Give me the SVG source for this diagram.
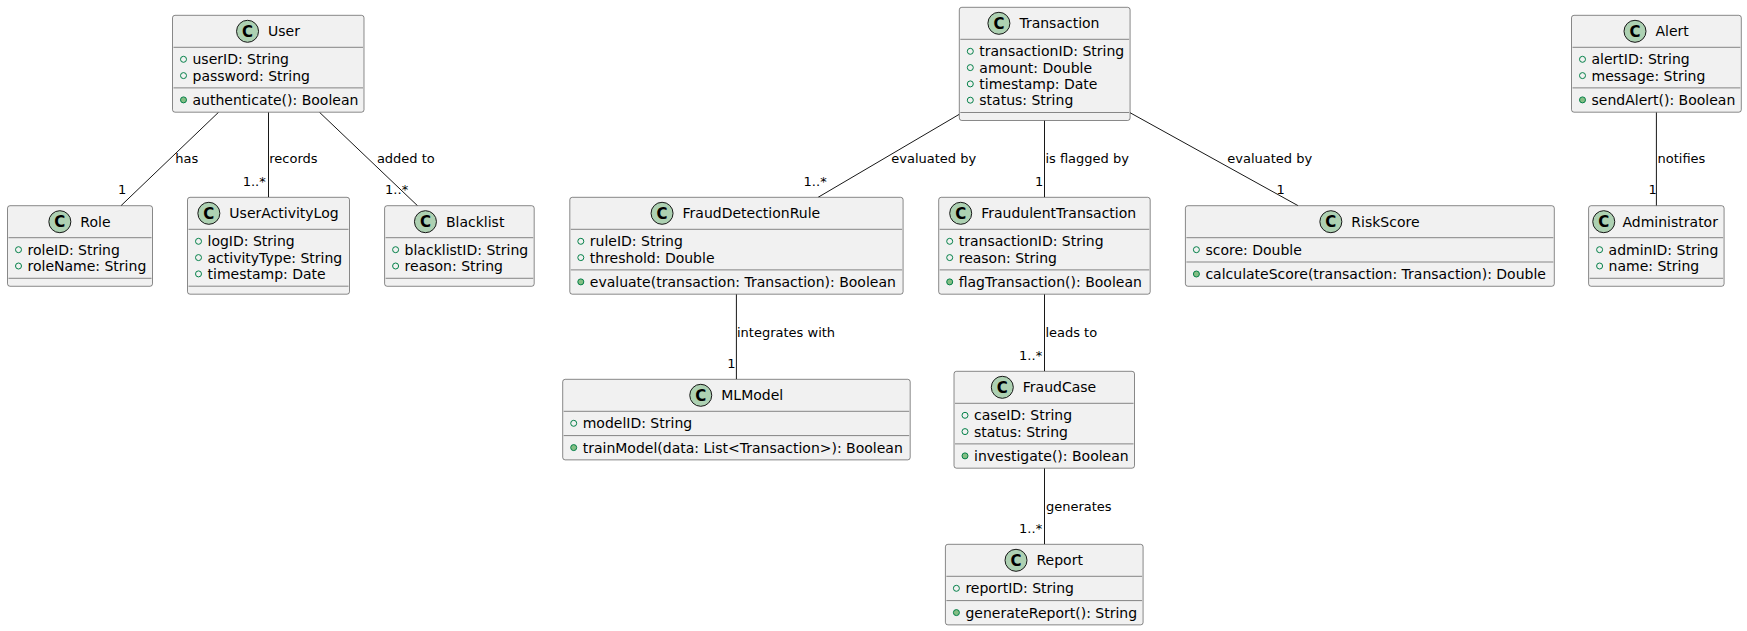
<svg xmlns="http://www.w3.org/2000/svg" width="1747" height="631" viewBox="0 0 1747 631">
  <style>
    text { font-family: "DejaVu Sans", "Liberation Sans", sans-serif; fill: #000000; }
    .box { fill: #F1F1F1; stroke: #181818; stroke-width: 0.5; }
    .sep { stroke: #181818; stroke-width: 0.5; }
    .badge { fill: #ADD1B2; stroke: #181818; stroke-width: 1; }
    .badge-c { font-size: 15px; font-weight: bold; text-anchor: middle; }
    .name { font-size: 14px; }
    .member { font-size: 14px; }
    .fld { fill: none; stroke: #038048; stroke-width: 1; }
    .mth { fill: #84BE84; stroke: #038048; stroke-width: 1; }
    .edge { stroke: #181818; stroke-width: 1; fill: none; }
    .lbl { font-size: 13px; }
  </style>
  <rect width="1747" height="631" fill="#FFFFFF"/>

  <!-- connectors -->
  <g id="connectors">
    <line class="edge" x1="218.5" y1="112.3" x2="121" y2="205.7"/>
    <text class="lbl" x="175.2" y="162.7">has</text>
    <text class="lbl" x="118" y="194">1</text>

    <line class="edge" x1="268.5" y1="112.3" x2="268.5" y2="197.3"/>
    <text class="lbl" x="269.3" y="162.7">records</text>
    <text class="lbl" x="242.7" y="185.7">1..*</text>

    <line class="edge" x1="319.5" y1="112.3" x2="417.5" y2="205.7"/>
    <text class="lbl" x="376.9" y="162.7">added to</text>
    <text class="lbl" x="385.1" y="194">1..*</text>

    <line class="edge" x1="959.3" y1="114.3" x2="818.1" y2="197.3"/>
    <text class="lbl" x="891.3" y="162.7">evaluated by</text>
    <text class="lbl" x="803.6" y="185.7">1..*</text>

    <line class="edge" x1="1044.5" y1="120.5" x2="1044.5" y2="197.3"/>
    <text class="lbl" x="1045.4" y="162.7">is flagged by</text>
    <text class="lbl" x="1035" y="185.7">1</text>

    <line class="edge" x1="1130" y1="112.7" x2="1298.1" y2="205.7"/>
    <text class="lbl" x="1227.3" y="162.7">evaluated by</text>
    <text class="lbl" x="1276.6" y="194">1</text>

    <line class="edge" x1="1656.4" y1="112.3" x2="1656.4" y2="205.7"/>
    <text class="lbl" x="1657.5" y="162.7">notifies</text>
    <text class="lbl" x="1648.6" y="194">1</text>

    <line class="edge" x1="736.4" y1="294.2" x2="736.4" y2="379.3"/>
    <text class="lbl" x="737" y="336.7">integrates with</text>
    <text class="lbl" x="727.3" y="367.7">1</text>

    <line class="edge" x1="1044.5" y1="294.2" x2="1044.5" y2="371.3"/>
    <text class="lbl" x="1045.4" y="336.7">leads to</text>
    <text class="lbl" x="1019.1" y="360">1..*</text>

    <line class="edge" x1="1044.5" y1="468.2" x2="1044.5" y2="544.3"/>
    <text class="lbl" x="1045.9" y="511">generates</text>
    <text class="lbl" x="1019.1" y="533.3">1..*</text>
  </g>

  <!-- User -->
  <g id="User">
    <rect class="box" x="172.5" y="15.3" width="191.5" height="96.89" rx="2.5" ry="2.5"/>
    <circle class="badge" cx="247.55" cy="31.3" r="11"/>
    <text class="badge-c" x="247.55" y="36.6">C</text>
    <text class="name" x="268.05" y="36.15">User</text>
    <line class="sep" x1="173.5" y1="47.3" x2="363" y2="47.3"/>
    <circle class="fld" cx="183.5" cy="59.3" r="3"/>
    <text class="member" x="192.5" y="64.3">userID: String</text>
    <circle class="fld" cx="183.5" cy="75.6" r="3"/>
    <text class="member" x="192.5" y="80.6">password: String</text>
    <line class="sep" x1="173.5" y1="87.89" x2="363" y2="87.89"/>
    <circle class="mth" cx="183.5" cy="99.89" r="3"/>
    <text class="member" x="192.5" y="104.89">authenticate(): Boolean</text>
  </g>

  <!-- Role -->
  <g id="Role">
    <rect class="box" x="7.5" y="205.7" width="145" height="80.59" rx="2.5" ry="2.5"/>
    <circle class="badge" cx="59.85" cy="221.7" r="11"/>
    <text class="badge-c" x="59.85" y="227">C</text>
    <text class="name" x="80.35" y="226.55">Role</text>
    <line class="sep" x1="8.5" y1="237.7" x2="151.5" y2="237.7"/>
    <circle class="fld" cx="18.5" cy="249.7" r="3"/>
    <text class="member" x="27.5" y="254.7">roleID: String</text>
    <circle class="fld" cx="18.5" cy="266" r="3"/>
    <text class="member" x="27.5" y="271">roleName: String</text>
    <line class="sep" x1="8.5" y1="278.29" x2="151.5" y2="278.29"/>
  </g>

  <!-- UserActivityLog -->
  <g id="UserActivityLog">
    <rect class="box" x="187.5" y="197.3" width="162" height="96.89" rx="2.5" ry="2.5"/>
    <circle class="badge" cx="208.85" cy="213.3" r="11"/>
    <text class="badge-c" x="208.85" y="218.6">C</text>
    <text class="name" x="229.35" y="218.15">UserActivityLog</text>
    <line class="sep" x1="188.5" y1="229.3" x2="348.5" y2="229.3"/>
    <circle class="fld" cx="198.5" cy="241.3" r="3"/>
    <text class="member" x="207.5" y="246.3">logID: String</text>
    <circle class="fld" cx="198.5" cy="257.6" r="3"/>
    <text class="member" x="207.5" y="262.6">activityType: String</text>
    <circle class="fld" cx="198.5" cy="273.9" r="3"/>
    <text class="member" x="207.5" y="278.9">timestamp: Date</text>
    <line class="sep" x1="188.5" y1="286.19" x2="348.5" y2="286.19"/>
  </g>

  <!-- Blacklist -->
  <g id="Blacklist">
    <rect class="box" x="384.6" y="205.7" width="149.6" height="80.59" rx="2.5" ry="2.5"/>
    <circle class="badge" cx="425.45" cy="221.7" r="11"/>
    <text class="badge-c" x="425.45" y="227">C</text>
    <text class="name" x="445.95" y="226.55">Blacklist</text>
    <line class="sep" x1="385.6" y1="237.7" x2="533.2" y2="237.7"/>
    <circle class="fld" cx="395.6" cy="249.7" r="3"/>
    <text class="member" x="404.6" y="254.7">blacklistID: String</text>
    <circle class="fld" cx="395.6" cy="266" r="3"/>
    <text class="member" x="404.6" y="271">reason: String</text>
    <line class="sep" x1="385.6" y1="278.29" x2="533.2" y2="278.29"/>
  </g>

  <!-- Transaction -->
  <g id="Transaction">
    <rect class="box" x="959.3" y="7.3" width="170.8" height="113.19" rx="2.5" ry="2.5"/>
    <circle class="badge" cx="998.9" cy="23.3" r="11"/>
    <text class="badge-c" x="998.9" y="28.6">C</text>
    <text class="name" x="1019.4" y="28.15">Transaction</text>
    <line class="sep" x1="960.3" y1="39.3" x2="1129.1" y2="39.3"/>
    <circle class="fld" cx="970.3" cy="51.3" r="3"/>
    <text class="member" x="979.3" y="56.3">transactionID: String</text>
    <circle class="fld" cx="970.3" cy="67.6" r="3"/>
    <text class="member" x="979.3" y="72.6">amount: Double</text>
    <circle class="fld" cx="970.3" cy="83.9" r="3"/>
    <text class="member" x="979.3" y="88.9">timestamp: Date</text>
    <circle class="fld" cx="970.3" cy="100.2" r="3"/>
    <text class="member" x="979.3" y="105.2">status: String</text>
    <line class="sep" x1="960.3" y1="112.49" x2="1129.1" y2="112.49"/>
  </g>

  <!-- FraudDetectionRule -->
  <g id="FraudDetectionRule">
    <rect class="box" x="569.8" y="197.3" width="333.3" height="96.89" rx="2.5" ry="2.5"/>
    <circle class="badge" cx="662.05" cy="213.3" r="11"/>
    <text class="badge-c" x="662.05" y="218.6">C</text>
    <text class="name" x="682.55" y="218.15">FraudDetectionRule</text>
    <line class="sep" x1="570.8" y1="229.3" x2="902.1" y2="229.3"/>
    <circle class="fld" cx="580.8" cy="241.3" r="3"/>
    <text class="member" x="589.8" y="246.3">ruleID: String</text>
    <circle class="fld" cx="580.8" cy="257.6" r="3"/>
    <text class="member" x="589.8" y="262.6">threshold: Double</text>
    <line class="sep" x1="570.8" y1="269.89" x2="902.1" y2="269.89"/>
    <circle class="mth" cx="580.8" cy="281.89" r="3"/>
    <text class="member" x="589.8" y="286.89">evaluate(transaction: Transaction): Boolean</text>
  </g>

  <!-- FraudulentTransaction -->
  <g id="FraudulentTransaction">
    <rect class="box" x="938.7" y="197.3" width="211.5" height="96.89" rx="2.5" ry="2.5"/>
    <circle class="badge" cx="960.7" cy="213.3" r="11"/>
    <text class="badge-c" x="960.7" y="218.6">C</text>
    <text class="name" x="981.2" y="218.15">FraudulentTransaction</text>
    <line class="sep" x1="939.7" y1="229.3" x2="1149.2" y2="229.3"/>
    <circle class="fld" cx="949.7" cy="241.3" r="3"/>
    <text class="member" x="958.7" y="246.3">transactionID: String</text>
    <circle class="fld" cx="949.7" cy="257.6" r="3"/>
    <text class="member" x="958.7" y="262.6">reason: String</text>
    <line class="sep" x1="939.7" y1="269.89" x2="1149.2" y2="269.89"/>
    <circle class="mth" cx="949.7" cy="281.89" r="3"/>
    <text class="member" x="958.7" y="286.89">flagTransaction(): Boolean</text>
  </g>

  <!-- RiskScore -->
  <g id="RiskScore">
    <rect class="box" x="1185.4" y="205.7" width="368.9" height="80.59" rx="2.5" ry="2.5"/>
    <circle class="badge" cx="1330.85" cy="221.7" r="11"/>
    <text class="badge-c" x="1330.85" y="227">C</text>
    <text class="name" x="1351.35" y="226.55">RiskScore</text>
    <line class="sep" x1="1186.4" y1="237.7" x2="1553.3" y2="237.7"/>
    <circle class="fld" cx="1196.4" cy="249.7" r="3"/>
    <text class="member" x="1205.4" y="254.7">score: Double</text>
    <line class="sep" x1="1186.4" y1="262" x2="1553.3" y2="262"/>
    <circle class="mth" cx="1196.4" cy="274" r="3"/>
    <text class="member" x="1205.4" y="279">calculateScore(transaction: Transaction): Double</text>
  </g>

  <!-- Alert -->
  <g id="Alert">
    <rect class="box" x="1571.5" y="15.3" width="169.8" height="96.89" rx="2.5" ry="2.5"/>
    <circle class="badge" cx="1635" cy="31.3" r="11"/>
    <text class="badge-c" x="1635" y="36.6">C</text>
    <text class="name" x="1655.5" y="36.15">Alert</text>
    <line class="sep" x1="1572.5" y1="47.3" x2="1740.3" y2="47.3"/>
    <circle class="fld" cx="1582.5" cy="59.3" r="3"/>
    <text class="member" x="1591.5" y="64.3">alertID: String</text>
    <circle class="fld" cx="1582.5" cy="75.6" r="3"/>
    <text class="member" x="1591.5" y="80.6">message: String</text>
    <line class="sep" x1="1572.5" y1="87.89" x2="1740.3" y2="87.89"/>
    <circle class="mth" cx="1582.5" cy="99.89" r="3"/>
    <text class="member" x="1591.5" y="104.89">sendAlert(): Boolean</text>
  </g>

  <!-- Administrator -->
  <g id="Administrator">
    <rect class="box" x="1588.6" y="205.7" width="135.5" height="80.59" rx="2.5" ry="2.5"/>
    <circle class="badge" cx="1603.75" cy="221.7" r="11"/>
    <text class="badge-c" x="1603.75" y="227">C</text>
    <text class="name" x="1622.5" y="226.55">Administrator</text>
    <line class="sep" x1="1589.6" y1="237.7" x2="1723.1" y2="237.7"/>
    <circle class="fld" cx="1599.6" cy="249.7" r="3"/>
    <text class="member" x="1608.6" y="254.7">adminID: String</text>
    <circle class="fld" cx="1599.6" cy="266" r="3"/>
    <text class="member" x="1608.6" y="271">name: String</text>
    <line class="sep" x1="1589.6" y1="278.29" x2="1723.1" y2="278.29"/>
  </g>

  <!-- MLModel -->
  <g id="MLModel">
    <rect class="box" x="562.7" y="379.3" width="347.5" height="80.59" rx="2.5" ry="2.5"/>
    <circle class="badge" cx="700.75" cy="395.3" r="11"/>
    <text class="badge-c" x="700.75" y="400.6">C</text>
    <text class="name" x="721.25" y="400.15">MLModel</text>
    <line class="sep" x1="563.7" y1="411.3" x2="909.2" y2="411.3"/>
    <circle class="fld" cx="573.7" cy="423.3" r="3"/>
    <text class="member" x="582.7" y="428.3">modelID: String</text>
    <line class="sep" x1="563.7" y1="435.6" x2="909.2" y2="435.6"/>
    <circle class="mth" cx="573.7" cy="447.6" r="3"/>
    <text class="member" x="582.7" y="452.6">trainModel(data: List&lt;Transaction&gt;): Boolean</text>
  </g>

  <!-- FraudCase -->
  <g id="FraudCase">
    <rect class="box" x="954" y="371.3" width="180.5" height="96.89" rx="2.5" ry="2.5"/>
    <circle class="badge" cx="1002.3" cy="387.3" r="11"/>
    <text class="badge-c" x="1002.3" y="392.6">C</text>
    <text class="name" x="1022.8" y="392.15">FraudCase</text>
    <line class="sep" x1="955" y1="403.3" x2="1133.5" y2="403.3"/>
    <circle class="fld" cx="965" cy="415.3" r="3"/>
    <text class="member" x="974" y="420.3">caseID: String</text>
    <circle class="fld" cx="965" cy="431.6" r="3"/>
    <text class="member" x="974" y="436.6">status: String</text>
    <line class="sep" x1="955" y1="443.89" x2="1133.5" y2="443.89"/>
    <circle class="mth" cx="965" cy="455.89" r="3"/>
    <text class="member" x="974" y="460.89">investigate(): Boolean</text>
  </g>

  <!-- Report -->
  <g id="Report">
    <rect class="box" x="945.4" y="544.3" width="197.7" height="80.59" rx="2.5" ry="2.5"/>
    <circle class="badge" cx="1016" cy="560.3" r="11"/>
    <text class="badge-c" x="1016" y="565.6">C</text>
    <text class="name" x="1036.5" y="565.15">Report</text>
    <line class="sep" x1="946.4" y1="576.3" x2="1142.1" y2="576.3"/>
    <circle class="fld" cx="956.4" cy="588.3" r="3"/>
    <text class="member" x="965.4" y="593.3">reportID: String</text>
    <line class="sep" x1="946.4" y1="600.6" x2="1142.1" y2="600.6"/>
    <circle class="mth" cx="956.4" cy="612.6" r="3"/>
    <text class="member" x="965.4" y="617.6">generateReport(): String</text>
  </g>
</svg>
